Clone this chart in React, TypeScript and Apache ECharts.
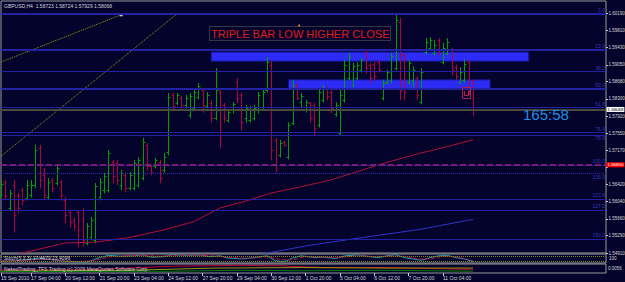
import React, { useEffect, useRef } from "react";
import * as echarts from "echarts";

// ---------- data ----------
const SLOTS = 142;
const xTickIndex = [0, 7, 15, 23, 31, 39, 47, 55, 63, 71, 79, 87, 95, 103];
const xTickLabels = ["15 Sep 2010", "17 Sep 04:00", "20 Sep 12:00", "21 Sep 20:00", "23 Sep 04:00", "24 Sep 12:00", "27 Sep 20:00", "29 Sep 04:00", "30 Sep 12:00", "1 Oct 20:00", "5 Oct 04:00", "6 Oct 12:00", "7 Oct 20:00", "11 Oct 04:00"];
const priceTicks = [1.5491, 1.5529, 1.5566, 1.5604, 1.5642, 1.5679, 1.5717, 1.5755, 1.5792, 1.583, 1.5868, 1.5905, 1.5943, 1.5981, 1.6019];
const priceLabels = [1.5491, 1.5529, 1.5566, 1.5604, 1.5642, 1.5717, 1.5755, 1.5792, 1.583, 1.5868, 1.5905, 1.5943, 1.5981, 1.6019];

const opens = [1.5619,1.5647,1.5590,1.5641,1.5619,1.5630,1.5612,1.5619,1.5641,1.5722,
1.5663,1.5614,1.5652,1.5645,1.5647,1.5608,1.5581,1.5564,1.5581,1.5586,
1.5513,1.5526,1.5520,1.5614,1.5630,1.5630,1.5691,1.5689,1.5641,1.5663,
1.5634,1.5634,1.5641,1.5656,1.5729,1.5682,1.5682,1.5691,1.5674,1.5713,
1.5839,1.5821,1.5832,1.5817,1.5795,1.5810,1.5834,1.5850,1.5814,1.5821,
1.5788,1.5845,1.5817,1.5784,1.5806,1.5867,1.5839,1.5788,1.5784,1.5788,
1.5806,1.5812,1.5850,1.5905,1.5740,1.5707,1.5735,1.5702,1.5777,1.5861,
1.5823,1.5806,1.5821,1.5817,1.5773,1.5828,1.5854,1.5845,1.5797,1.5755,
1.5828,1.5876,1.5861,1.5876,1.5894,1.5933,1.5905,1.5907,1.5911,1.5832,
1.5867,1.5872,1.5898,1.5999,1.5927,1.5867,1.5872,1.5876,1.5823,1.5933,
1.5942,1.5931,1.5960,1.5911,1.5931,1.5938,1.5900,1.5867,1.5872,1.5911,
1.58723];
const highs = [1.5652,1.5652,1.5630,1.5652,1.5623,1.5634,1.5652,1.5652,1.5729,1.5729,
1.5678,1.5656,1.5656,1.5685,1.5652,1.5614,1.5586,1.5568,1.5586,1.5590,
1.5557,1.5570,1.5645,1.5656,1.5667,1.5718,1.5696,1.5696,1.5674,1.5669,
1.5669,1.5696,1.5702,1.5744,1.5733,1.5685,1.5700,1.5696,1.5711,1.5843,
1.5843,1.5843,1.5836,1.5839,1.5843,1.5854,1.5865,1.5854,1.5845,1.5828,
1.5898,1.5850,1.5821,1.5806,1.5823,1.5876,1.5843,1.5817,1.5814,1.5817,
1.5845,1.5850,1.5922,1.5916,1.5744,1.5740,1.5737,1.5779,1.5872,1.5863,
1.5843,1.5828,1.5823,1.5821,1.5854,1.5861,1.5858,1.5850,1.5823,1.5850,
1.5916,1.5931,1.5909,1.5911,1.5920,1.5938,1.5909,1.5911,1.5916,1.5872,
1.5894,1.5931,1.6017,1.6008,1.5931,1.5916,1.5902,1.5880,1.5898,1.5964,
1.5966,1.5960,1.5964,1.5953,1.5964,1.5942,1.5905,1.5900,1.5916,1.5916,
1.58724];
const lows = [1.5614,1.5608,1.5586,1.5537,1.5581,1.5597,1.5608,1.5614,1.5634,1.5634,
1.5608,1.5610,1.5625,1.5641,1.5608,1.5557,1.5548,1.5542,1.5504,1.5506,
1.5509,1.5520,1.5513,1.5608,1.5623,1.5625,1.5645,1.5641,1.5630,1.5625,
1.5630,1.5630,1.5636,1.5652,1.5674,1.5663,1.5678,1.5645,1.5669,1.5707,
1.5806,1.5817,1.5810,1.5810,1.5788,1.5806,1.5830,1.5801,1.5810,1.5779,
1.5784,1.5722,1.5779,1.5779,1.5799,1.5821,1.5762,1.5779,1.5779,1.5784,
1.5799,1.5806,1.5845,1.5696,1.5669,1.5702,1.5726,1.5698,1.5773,1.5828,
1.5812,1.5801,1.5779,1.5751,1.5768,1.5823,1.5828,1.5799,1.5792,1.5751,
1.5823,1.5872,1.5856,1.5872,1.5889,1.5887,1.5865,1.5872,1.5889,1.5828,
1.5863,1.5865,1.5894,1.5828,1.5828,1.5863,1.5856,1.5828,1.5819,1.5929,
1.5938,1.5927,1.5927,1.5907,1.5927,1.5883,1.5872,1.5863,1.5867,1.5839,
1.57929];
const closes = [1.5643,1.5616,1.5623,1.5575,1.5590,1.5608,1.5641,1.5641,1.5718,1.5652,
1.5619,1.5647,1.5634,1.5678,1.5619,1.5575,1.5559,1.5550,1.5542,1.5520,
1.5550,1.5564,1.5638,1.5647,1.5660,1.5711,1.5660,1.5652,1.5667,1.5634,
1.5663,1.5689,1.5696,1.5735,1.5682,1.5669,1.5696,1.5656,1.5702,1.5834,
1.5814,1.5839,1.5817,1.5832,1.5836,1.5845,1.5858,1.5817,1.5839,1.5788,
1.5850,1.5806,1.5788,1.5801,1.5819,1.5832,1.5779,1.5810,1.5806,1.5810,
1.5839,1.5845,1.5911,1.5718,1.5685,1.5733,1.5729,1.5773,1.5861,1.5832,
1.5836,1.5823,1.5788,1.5766,1.5845,1.5854,1.5836,1.5810,1.5817,1.5839,
1.5905,1.5922,1.5902,1.5905,1.5916,1.5898,1.5876,1.5880,1.5894,1.5865,
1.5889,1.5924,1.6004,1.5850,1.5845,1.5909,1.5894,1.5839,1.5889,1.5955,
1.5960,1.5949,1.5933,1.5942,1.5955,1.5894,1.5880,1.5889,1.5907,1.5854,
1.58068];

const redMA = [[0, 1.5478], [5, 1.5491], [15, 1.5513], [22, 1.5515], [30, 1.5525], [38, 1.5542], [45, 1.556], [51, 1.559], [57, 1.5605], [63, 1.5623], [70, 1.5637], [77, 1.5652], [82, 1.5667], [88, 1.5685], [97, 1.5709], [104, 1.5725], [110, 1.574]];
const blueMA = [[55, 1.548], [62, 1.5491], [72, 1.5508], [82, 1.5522], [97, 1.5542], [110, 1.5565]];
const trend1 = [[0, 1.5911], [28, 1.6015]];
const trend2 = [[0, 1.5704], [41, 1.6017]];

const fibPrices = [1.6017, 1.5938, 1.5891, 1.5852, 1.5812, 1.5757, 1.5751, 1.5685, 1.5667, 1.561, 1.5586, 1.5522];
const fibLabels = ["0.0", "23.6", "38.2", "50.0", "61.8", "76.4", "78.6", "100.0", "105.0", "123.6", "127.2", "150.0"];
const bidPrice = 1.58068;
const alertPrice = 1.5685;
const zoneA = [49, 123, 1.5933, 1.5913];
const zoneB = [67, 114, 1.5872, 1.5852];

const stochK = [[0, 20], [5, 30], [9, 55], [12, 35], [16, 15], [20, 10], [23, 60], [25, 85], [28, 75], [31, 80], [33, 90], [35, 65], [38, 70], [40, 92], [43, 85], [46, 88], [49, 70], [51, 80], [53, 55], [56, 45], [59, 60], [62, 80], [64, 25], [66, 15], [68, 55], [70, 80], [73, 60], [75, 65], [78, 50], [80, 78], [83, 90], [86, 70], [88, 60], [90, 80], [92, 92], [94, 60], [96, 45], [98, 30], [100, 60], [102, 80], [104, 85], [106, 60], [108, 45], [110, 17.47]];
const stochD = [[0, 25], [5, 25], [10, 45], [14, 30], [18, 15], [22, 30], [25, 65], [29, 80], [33, 85], [37, 75], [41, 85], [45, 87], [50, 78], [54, 60], [58, 52], [62, 70], [65, 40], [68, 35], [71, 70], [75, 65], [79, 60], [83, 82], [87, 72], [91, 78], [94, 75], [97, 45], [100, 45], [103, 75], [106, 70], [108, 50], [110, 23.41]];
const panelRed = [[0, 0.35], [20, 0.35], [30, 0.55], [40, 0.75], [55, 0.85], [65, 0.8], [75, 0.6], [90, 0.6], [100, 0.5], [110, 0.4]];
const panelYellow = [[0, 0.2], [30, 0.3], [50, 0.55], [70, 0.6], [90, 0.55], [110, 0.55]];
const panelGreen = [[0, 0.15], [40, 0.2], [55, 0.3], [70, 0.25], [90, 0.3], [110, 0.2]];

const FONT = "Liberation Sans";
const BG = "#03032b";

export default function App() {
  const ref = useRef<HTMLDivElement>(null);
  useEffect(() => {
    if (!ref.current) return;
    const chart = echarts.init(ref.current, undefined, { renderer: "svg" });
    const cats = Array.from({ length: SLOTS }, (_, i) => String(i));
    const ohlc = opens.map((o, i) => [i, o, highs[i], lows[i], closes[i]]);
    const isTick = (i: number) => xTickIndex.indexOf(i) >= 0;

    const thick = [0, 1, 3];
    const fibLines = fibPrices.map((p, k) => ({
      yAxis: p,
      lineStyle: k === 8
        ? { color: "#2c2cb0", width: 1, type: "dotted" }
        : { color: "#2222a4", width: thick.indexOf(k) >= 0 ? 2 : 1, type: "solid" },
      label: {
        show: true, position: k === 6 || k === 8 ? "insideEndBottom" : "insideEndTop",
        formatter: fibLabels[k], color: "#3838b8", fontSize: 5, distance: 1, fontFamily: FONT,
      },
    }));

    const gridBase = { left: 1, width: 605, show: true, borderColor: "#9a9a9a", borderWidth: 1, outerBoundsMode: "none", containLabel: false };
    const boxLabel = { show: true, position: "end", fontSize: 4.4, padding: [0.5, 1], distance: 0.5, fontFamily: FONT };

    const option: any = {
      animation: false,
      backgroundColor: BG,
      textStyle: { fontFamily: FONT },
      grid: [
        { ...gridBase, top: 1, height: 252 },
        { ...gridBase, top: 254, height: 9 },
        { ...gridBase, top: 264, height: 9 },
      ],
      xAxis: [
        { type: "category", gridIndex: 0, data: cats, boundaryGap: false, show: false },
        { type: "category", gridIndex: 1, data: cats, boundaryGap: false, show: false },
        {
          type: "category", gridIndex: 2, data: cats, boundaryGap: false,
          axisLine: { show: false },
          axisTick: { show: true, interval: (i: number) => isTick(i), length: 3, lineStyle: { color: "#c8c8c8" } },
          axisLabel: {
            interval: (i: number) => isTick(i),
            formatter: (_v: string, i: number) => { const k = xTickIndex.indexOf(i); return k >= 0 ? xTickLabels[k] : ""; },
            align: "left", margin: 2, fontSize: 5, color: "#d4d4d4", fontFamily: FONT,
          },
          splitLine: { show: false },
        },
      ],
      yAxis: [
        {
          type: "value", gridIndex: 0, position: "right", min: 1.5491, max: 1.60454,
          splitLine: { show: false }, axisLine: { show: false },
          axisTick: { show: true, length: 2, customValues: priceTicks, lineStyle: { color: "#c8c8c8" } },
          axisLabel: { customValues: priceLabels, formatter: (v: number) => v.toFixed(5), fontSize: 4.5, color: "#d8d8d8", margin: 2.5, fontFamily: FONT },
        },
        { type: "value", gridIndex: 1, min: 0, max: 100, show: false },
        { type: "value", gridIndex: 2, min: 0, max: 1, show: false },
      ],
      series: [
        {
          name: "MA slow", type: "line", xAxisIndex: 0, yAxisIndex: 0, data: blueMA, symbol: "none", z: 1,
          lineStyle: { color: "#3232c8", width: 1 },
          markArea: {
            silent: true,
            itemStyle: { color: "#2c2cf6", borderColor: "#14148c", borderWidth: 1 },
            data: [
              [{ xAxis: zoneA[0], yAxis: zoneA[2] }, { xAxis: zoneA[1], yAxis: zoneA[3] }],
              [{ xAxis: zoneB[0], yAxis: zoneB[2] }, { xAxis: zoneB[1], yAxis: zoneB[3] }],
            ],
          },
          markLine: {
            silent: true, symbol: ["none", "none"], precision: 5,
            data: [
              ...fibLines,
              {
                yAxis: bidPrice, lineStyle: { color: "#4a4a3c", width: 2, type: "solid" },
                label: { ...boxLabel, formatter: bidPrice.toFixed(5), backgroundColor: "#ffffff", color: "#000000" },
              },
              {
                yAxis: alertPrice, lineStyle: { color: "#7c1c6c", width: 2, type: [6, 3] },
                label: { ...boxLabel, formatter: alertPrice.toFixed(5), backgroundColor: "#ff0000", color: "#ffffff" },
              },
            ],
          },
        },
        {
          name: "GBPUSD", type: "custom", xAxisIndex: 0, yAxisIndex: 0, z: 3, data: ohlc,
          encode: { x: 0, y: [1, 2, 3, 4] },
          renderItem: (_p: any, api: any) => {
            const i = api.value(0);
            const o = api.value(1), h = api.value(2), l = api.value(3), c = api.value(4);
            const pH = api.coord([i, h]), pL = api.coord([i, l]), pO = api.coord([i, o]), pC = api.coord([i, c]);
            const x = Math.round(pH[0]) + 0.5;
            const color = c >= o ? "#00a000" : "#b4003c";
            const st = { stroke: color, lineWidth: 1 };
            return {
              type: "group",
              children: [
                { type: "line", shape: { x1: x, y1: pH[1], x2: x, y2: pL[1] + 0.5 }, style: st },
                { type: "line", shape: { x1: x - 2, y1: Math.round(pO[1]) + 0.5, x2: x, y2: Math.round(pO[1]) + 0.5 }, style: st },
                { type: "line", shape: { x1: x, y1: Math.round(pC[1]) + 0.5, x2: x + 2, y2: Math.round(pC[1]) + 0.5 }, style: st },
              ],
            };
          },
        },
        { name: "MA fast", type: "line", xAxisIndex: 0, yAxisIndex: 0, data: redMA, symbol: "none", z: 4, lineStyle: { color: "#b0103c", width: 1 } },
        {
          name: "trend1", type: "line", xAxisIndex: 0, yAxisIndex: 0, z: 4, symbol: "none",
          data: [trend1[0], { value: trend1[1], symbol: "rect", symbolSize: 3, itemStyle: { color: "#c8c8c8" } }],
          showSymbol: true, lineStyle: { color: "#a0a010", width: 1, type: "dotted" },
        },
        {
          name: "trend2", type: "line", xAxisIndex: 0, yAxisIndex: 0, z: 4, symbol: "none",
          data: [trend2[0], { value: trend2[1], symbol: "rect", symbolSize: 3, itemStyle: { color: "#c8c8c8" } }],
          showSymbol: true, lineStyle: { color: "#a0a010", width: 1, type: "dotted" },
        },
        {
          name: "Stoch", type: "line", xAxisIndex: 1, yAxisIndex: 1, data: stochK, symbol: "none",
          lineStyle: { color: "#20a8a8", width: 1 },
          markLine: {
            silent: true, symbol: ["none", "none"], label: { show: false }, precision: 2,
            lineStyle: { color: "#8a8a00", width: 1, type: "dotted" },
            data: [{ yAxis: 80 }, { yAxis: 20 }],
          },
        },
        { name: "Signal", type: "line", xAxisIndex: 1, yAxisIndex: 1, data: stochD, symbol: "none", lineStyle: { color: "#c0103c", width: 1, type: "dashed" } },
        { name: "p2red", type: "line", xAxisIndex: 2, yAxisIndex: 2, data: panelRed, symbol: "none", lineStyle: { color: "#c00030", width: 1 } },
        { name: "p2yellow", type: "line", xAxisIndex: 2, yAxisIndex: 2, data: panelYellow, symbol: "none", lineStyle: { color: "#9a9a10", width: 1 } },
        { name: "p2green", type: "line", xAxisIndex: 2, yAxisIndex: 2, data: panelGreen, symbol: "none", lineStyle: { color: "#008000", width: 1 } },
      ],
      graphic: [
        { type: "text", left: 4, top: 3, z: 10, style: { text: "GBPUSD,H4  1.58723 1.58724 1.57929 1.58068", fill: "#d4d4d4", fontSize: 5, fontFamily: FONT } },
        { type: "rect", z: 10, shape: { x: 209.5, y: 26.5, width: 181, height: 14 }, style: { fill: "none", stroke: "#6a6a6a", lineWidth: 1, lineDash: [1, 1] } },
        { type: "text", z: 11, x: 211, y: 34, style: { text: "TRIPLE BAR LOW HIGHER CLOSE", fill: "#e01c1c", fontSize: 11, fontFamily: FONT, textVerticalAlign: "middle" } },
        { type: "circle", z: 11, shape: { cx: 299, cy: 25.5, r: 1 }, style: { fill: "#e08020" } },
        { type: "text", z: 11, x: 523, y: 114.5, style: { text: "165:58", fill: "#2090e0", fontSize: 15, fontFamily: FONT, textVerticalAlign: "middle" } },
        { type: "rect", z: 11, shape: { x: 462.5, y: 87.5, width: 8, height: 11 }, style: { fill: "none", stroke: "#b02050", lineWidth: 1 } },
        { type: "polyline", z: 11, shape: { points: [[464.5, 91], [464.5, 95.5], [468.5, 95.5], [468.5, 91]] }, style: { fill: "none", stroke: "#b02050", lineWidth: 1 } },
        { type: "text", z: 10, left: 4, top: 255.5, style: { text: "Stoch(5,3,3) 17.4679 23.4096", fill: "#d4d4d4", fontSize: 5, fontFamily: FONT } },
        { type: "text", z: 10, left: 4, top: 266, style: { text: "NakedTrading_TFS Trading (c) 2009 MetaQuotes Software Corp.", fill: "#d4d4d4", fontSize: 5, fontFamily: FONT } },
        { type: "text", z: 10, x: 609, y: 256, style: { text: "100", fill: "#d4d4d4", fontSize: 4.5, fontFamily: FONT } },
        { type: "text", z: 10, x: 608, y: 266, style: { text: "0.0056", fill: "#d4d4d4", fontSize: 4.5, fontFamily: FONT } },
      ],
    };
    chart.setOption(option);
    return () => chart.dispose();
  }, []);
  return <div ref={ref} style={{ position: "fixed", left: 0, top: 0, width: 625, height: 282 }} />;
}
